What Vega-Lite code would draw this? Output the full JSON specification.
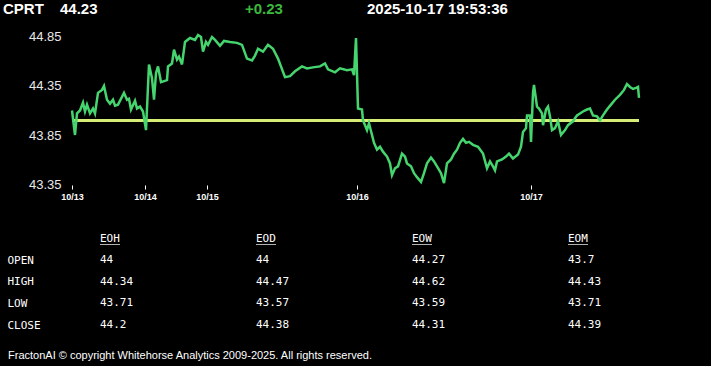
{
  "$schema": "https://vega.github.io/schema/vega-lite/v6.json",
  "width": 711,
  "height": 366,
  "padding": 0,
  "autosize": {"type": "none"},
  "background": "#000000",
  "config": {"view": {"stroke": null}, "axis": {"grid": false, "domain": false, "labelOverlap": false, "labelBound": false, "labelFlush": false}},
  "datasets": {
    "price": [
      {"t":0,"v":44.10},{"t":3,"v":43.85},{"t":5,"v":44.07},{"t":8,"v":44.10},{"t":11,"v":44.18},{"t":13,"v":44.09},{"t":15,"v":44.16},{"t":18,"v":44.07},{"t":21,"v":44.12},{"t":23,"v":44.07},
      {"t":26,"v":44.28},{"t":30,"v":44.31},{"t":32,"v":44.35},{"t":35,"v":44.21},{"t":38,"v":44.17},{"t":41,"v":44.21},{"t":43,"v":44.15},{"t":46,"v":44.16},{"t":52,"v":44.28},{"t":55,"v":44.21},
      {"t":57,"v":44.22},{"t":59,"v":44.11},{"t":63,"v":44.20},{"t":65,"v":44.12},{"t":68,"v":44.14},{"t":71,"v":44.09},{"t":74,"v":43.90},{"t":77,"v":44.57},{"t":80,"v":44.43},{"t":82,"v":44.21},
      {"t":84,"v":44.48},{"t":86,"v":44.55},{"t":89,"v":44.39},{"t":95,"v":44.41},{"t":96,"v":44.55},{"t":100,"v":44.58},{"t":102,"v":44.72},{"t":105,"v":44.62},{"t":107,"v":44.65},{"t":110,"v":44.57},
      {"t":113,"v":44.80},{"t":118,"v":44.84},{"t":123,"v":44.82},{"t":126,"v":44.87},{"t":129,"v":44.85},{"t":131,"v":44.70},{"t":134,"v":44.80},{"t":136,"v":44.77},{"t":140,"v":44.85},{"t":143,"v":44.82},
      {"t":148,"v":44.76},{"t":152,"v":44.81},{"t":158,"v":44.80},{"t":165,"v":44.79},{"t":170,"v":44.77},{"t":175,"v":44.63},{"t":180,"v":44.61},{"t":183,"v":44.66},{"t":186,"v":44.73},{"t":191,"v":44.70},
      {"t":196,"v":44.77},{"t":201,"v":44.73},{"t":206,"v":44.63},{"t":213,"v":44.44},{"t":218,"v":44.45},{"t":223,"v":44.50},{"t":230,"v":44.55},{"t":235,"v":44.53},{"t":241,"v":44.54},{"t":248,"v":44.55},
      {"t":253,"v":44.58},{"t":256,"v":44.52},{"t":263,"v":44.49},{"t":268,"v":44.53},{"t":275,"v":44.51},{"t":280,"v":44.52},{"t":282,"v":44.46},{"t":284,"v":44.84},{"t":286,"v":44.12},{"t":290,"v":44.11},
      {"t":291,"v":44.00},{"t":295,"v":43.90},{"t":297,"v":43.97},{"t":300,"v":43.85},{"t":302,"v":43.77},{"t":305,"v":43.70},{"t":308,"v":43.73},{"t":311,"v":43.68},{"t":315,"v":43.63},{"t":318,"v":43.56},
      {"t":320,"v":43.44},{"t":323,"v":43.51},{"t":326,"v":43.53},{"t":330,"v":43.66},{"t":333,"v":43.63},{"t":335,"v":43.56},{"t":339,"v":43.53},{"t":342,"v":43.46},{"t":345,"v":43.42},{"t":349,"v":43.37},
      {"t":352,"v":43.46},{"t":355,"v":43.56},{"t":359,"v":43.62},{"t":362,"v":43.58},{"t":365,"v":43.53},{"t":369,"v":43.46},{"t":372,"v":43.36},{"t":375,"v":43.56},{"t":379,"v":43.60},{"t":382,"v":43.66},
      {"t":385,"v":43.70},{"t":388,"v":43.77},{"t":391,"v":43.81},{"t":394,"v":43.77},{"t":397,"v":43.78},{"t":401,"v":43.75},{"t":406,"v":43.73},{"t":411,"v":43.66},{"t":415,"v":43.51},{"t":418,"v":43.58},
      {"t":421,"v":43.53},{"t":423,"v":43.49},{"t":425,"v":43.58},{"t":430,"v":43.60},{"t":434,"v":43.63},{"t":437,"v":43.66},{"t":441,"v":43.61},{"t":446,"v":43.65},{"t":449,"v":43.73},{"t":451,"v":43.88},
      {"t":454,"v":43.92},{"t":455,"v":44.05},{"t":458,"v":44.05},{"t":459,"v":43.78},{"t":461,"v":44.28},{"t":462,"v":44.36},{"t":465,"v":44.14},{"t":467,"v":44.12},{"t":470,"v":44.07},{"t":471,"v":43.95},
      {"t":474,"v":44.11},{"t":476,"v":44.14},{"t":478,"v":44.04},{"t":480,"v":43.90},{"t":483,"v":43.92},{"t":486,"v":43.99},{"t":489,"v":43.85},{"t":493,"v":43.90},{"t":496,"v":43.95},{"t":501,"v":43.99},
      {"t":505,"v":44.05},{"t":508,"v":44.07},{"t":511,"v":44.09},{"t":515,"v":44.11},{"t":518,"v":44.12},{"t":521,"v":44.05},{"t":525,"v":44.04},{"t":528,"v":44.00},{"t":531,"v":44.05},{"t":535,"v":44.11},
      {"t":539,"v":44.16},{"t":543,"v":44.21},{"t":548,"v":44.26},{"t":552,"v":44.31},{"t":555,"v":44.37},{"t":558,"v":44.34},{"t":561,"v":44.32},{"t":564,"v":44.33},{"t":566,"v":44.34},{"t":567,"v":44.23}
    ],
    "table": [
      {"row":"OPEN","col":"EOH","val":"44"},{"row":"OPEN","col":"EOD","val":"44"},{"row":"OPEN","col":"EOW","val":"44.27"},{"row":"OPEN","col":"EOM","val":"43.7"},
      {"row":"HIGH","col":"EOH","val":"44.34"},{"row":"HIGH","col":"EOD","val":"44.47"},{"row":"HIGH","col":"EOW","val":"44.62"},{"row":"HIGH","col":"EOM","val":"44.43"},
      {"row":"LOW","col":"EOH","val":"43.71"},{"row":"LOW","col":"EOD","val":"43.57"},{"row":"LOW","col":"EOW","val":"43.59"},{"row":"LOW","col":"EOM","val":"43.71"},
      {"row":"CLOSE","col":"EOH","val":"44.2"},{"row":"CLOSE","col":"EOD","val":"44.38"},{"row":"CLOSE","col":"EOW","val":"44.31"},{"row":"CLOSE","col":"EOM","val":"44.39"}
    ],
    "cols": [{"col":"EOH","row":"hdr"},{"col":"EOD","row":"hdr"},{"col":"EOW","row":"hdr"},{"col":"EOM","row":"hdr"}],
    "quote": [{"symbol":"CPRT","last":"44.23","change":"+0.23","time":"2025-10-17 19:53:36","footer":"FractonAI © copyright Whitehorse Analytics 2009-2025. All rights reserved."}]
  },
  "layer": [
    {
      "data": {"name": "price"},
      "layer": [
        {
          "mark": {"type": "rule", "color": "#d6ee78", "strokeWidth": 2},
          "encoding": {
            "x": {"datum": 0, "type": "quantitative"},
            "x2": {"datum": 567},
            "y": {"datum": 44.0, "type": "quantitative"}
          }
        },
        {
          "mark": {"type": "line", "color": "#45d46e", "strokeWidth": 2.5, "interpolate": "linear"},
          "encoding": {
            "x": {
              "field": "t", "type": "quantitative",
              "scale": {"domain": [-72, 639], "nice": false, "zero": false},
              "axis": {
                "orient": "bottom", "offset": -181, "values": [0, 73, 135, 285, 459],
                "labelExpr": "datum.value == 0 ? '10/13' : datum.value == 73 ? '10/14' : datum.value == 135 ? '10/15' : datum.value == 285 ? '10/16' : '10/17'",
                "ticks": true, "tickSize": 4, "tickColor": "#ffffff", "tickWidth": 1,
                "labelFont": "Liberation Sans", "labelFontSize": 9, "labelFontWeight": "bold", "labelColor": "#ffffff", "labelPadding": 3, "title": null
              }
            },
            "y": {
              "field": "v", "type": "quantitative",
              "scale": {"domain": [41.49286, 45.22755], "nice": false, "zero": false},
              "axis": {
                "orient": "left", "offset": -64, "values": [43.35, 43.85, 44.35, 44.85], "format": ".2f",
                "ticks": false, "labelPadding": 3, "labelFont": "Liberation Sans", "labelFontSize": 13,
                "labelColor": "#e8e8e8", "title": null
              }
            }
          }
        }
      ]
    },
    {
      "layer": [
        {
          "data": {"name": "table"},
          "mark": {"type": "text", "align": "left", "baseline": "middle", "font": "DejaVu Sans Mono", "fontSize": 11, "color": "#ffffff"},
          "encoding": {
            "x": {"field": "col", "type": "nominal", "scale": {"type": "point", "domain": ["EOH","EOD","EOW","EOM"], "range": [100, 568], "padding": 0}, "axis": null},
            "y": {"field": "row", "type": "nominal", "scale": {"type": "point", "domain": ["hdr","OPEN","HIGH","LOW","CLOSE"], "range": [238.5, 325], "padding": 0},
              "axis": {"orient": "left", "offset": -7, "values": ["OPEN","HIGH","LOW","CLOSE"], "ticks": false, "labelPadding": 0, "labelAlign": "left", "labelBaseline": "middle",
                "labelFont": "DejaVu Sans Mono", "labelFontSize": 11, "labelColor": "#ffffff", "title": null}},
            "text": {"field": "val"}
          }
        },
        {
          "data": {"name": "cols"},
          "mark": {"type": "text", "align": "left", "baseline": "middle", "font": "DejaVu Sans Mono", "fontSize": 11, "color": "#ffffff"},
          "encoding": {
            "x": {"field": "col", "type": "nominal"},
            "y": {"field": "row", "type": "nominal"},
            "text": {"field": "col"}
          }
        },
        {
          "data": {"name": "cols"},
          "mark": {"type": "tick", "orient": "horizontal", "color": "#ffffff", "size": 20, "thickness": 1, "xOffset": 10, "yOffset": 6},
          "encoding": {
            "x": {"field": "col", "type": "nominal"},
            "y": {"field": "row", "type": "nominal"}
          }
        }
      ]
    },
    {
      "data": {"name": "quote"},
      "layer": [
        {"mark": {"type": "text", "align": "left", "baseline": "alphabetic", "font": "Liberation Sans", "fontWeight": "bold", "fontSize": 15, "color": "#ffffff"},
         "encoding": {"x": {"value": 3}, "y": {"value": 14}, "text": {"field": "symbol"}}},
        {"mark": {"type": "text", "align": "left", "baseline": "alphabetic", "font": "Liberation Sans", "fontWeight": "bold", "fontSize": 15, "color": "#ffffff"},
         "encoding": {"x": {"value": 60}, "y": {"value": 14}, "text": {"field": "last"}}},
        {"mark": {"type": "text", "align": "left", "baseline": "alphabetic", "font": "Liberation Sans", "fontWeight": "bold", "fontSize": 15, "color": "#3cb83c"},
         "encoding": {"x": {"value": 245}, "y": {"value": 14}, "text": {"field": "change"}}},
        {"mark": {"type": "text", "align": "left", "baseline": "alphabetic", "font": "Liberation Sans", "fontWeight": "bold", "fontSize": 15, "color": "#ffffff"},
         "encoding": {"x": {"value": 367}, "y": {"value": 14}, "text": {"field": "time"}}},
        {"mark": {"type": "text", "align": "left", "baseline": "alphabetic", "font": "Liberation Sans", "fontSize": 11, "color": "#ffffff"},
         "encoding": {"x": {"value": 8}, "y": {"value": 359}, "text": {"field": "footer"}}}
      ]
    }
  ],
  "resolve": {"scale": {"x": "independent", "y": "independent"}, "axis": {"x": "independent", "y": "independent"}}
}
